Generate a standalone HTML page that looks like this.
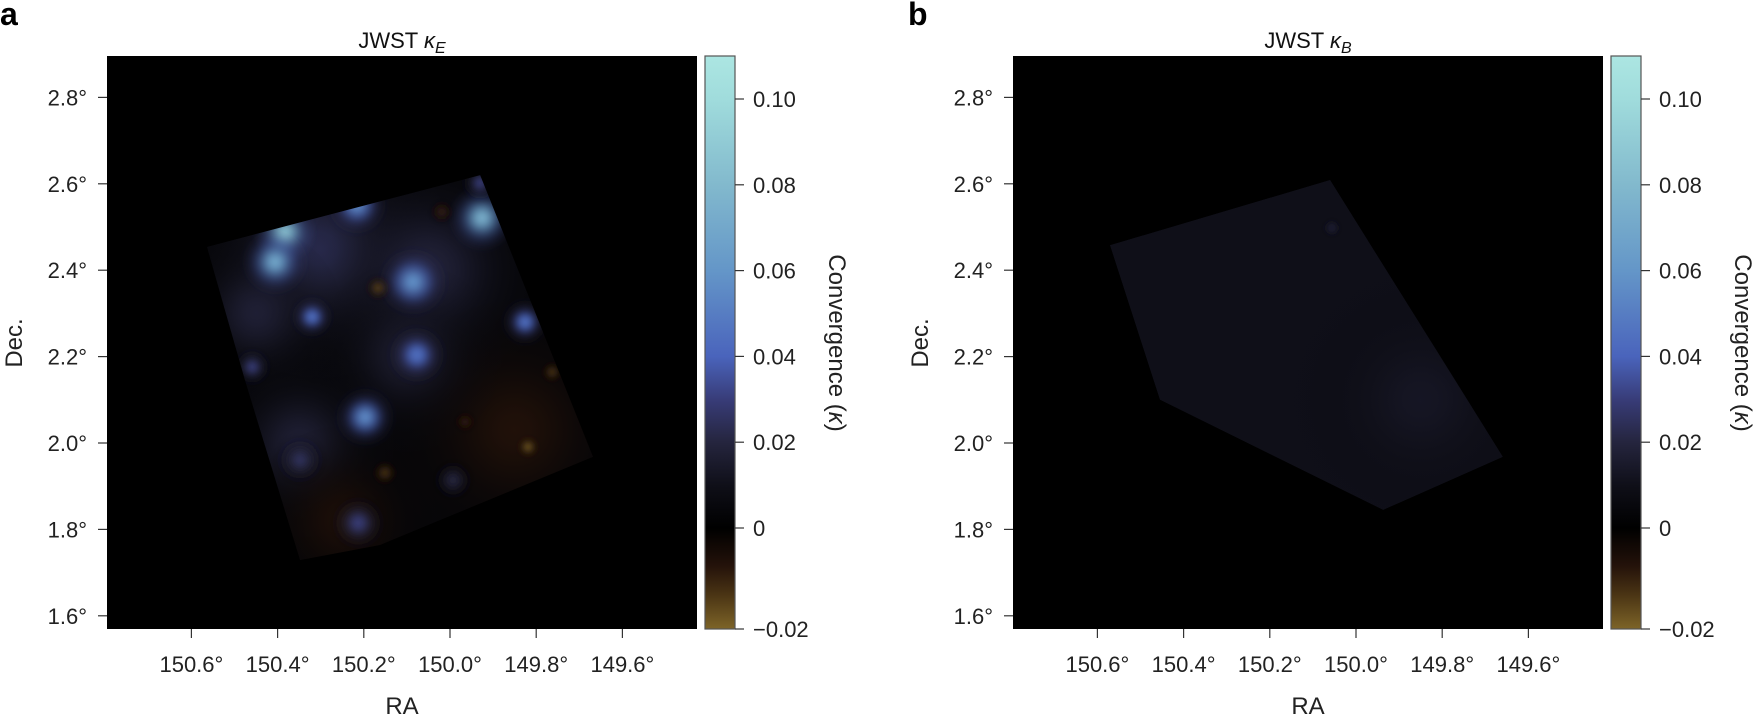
<!DOCTYPE html>
<html><head><meta charset="utf-8"><style>
html,body{margin:0;padding:0;background:#fff;}
svg{display:block;font-family:"Liberation Sans",sans-serif;}
</style></head><body>
<svg id="fig" width="1760" height="721" viewBox="0 0 1760 721" xmlns="http://www.w3.org/2000/svg">
<defs>
<filter id="soft" x="-50%" y="-50%" width="200%" height="200%"><feGaussianBlur stdDeviation="3"/></filter>
<linearGradient id="cbgrad" x1="0" y1="1" x2="0" y2="0">
<stop offset="0" stop-color="#7d6428"/><stop offset="0.06" stop-color="#4a3414"/><stop offset="0.11" stop-color="#24120a"/>
<stop offset="0.176" stop-color="#000"/><stop offset="0.25" stop-color="#0f0f18"/><stop offset="0.326" stop-color="#25253e"/>
<stop offset="0.40" stop-color="#383c78"/><stop offset="0.476" stop-color="#4a64bc"/><stop offset="0.625" stop-color="#6496c8"/>
<stop offset="0.775" stop-color="#82b9cd"/><stop offset="0.925" stop-color="#a0dcdc"/><stop offset="1" stop-color="#ace6e2"/></linearGradient>
</defs>
</svg>
<script>
// ---- data ----
const raTicks = [150.6, 150.4, 150.2, 150.0, 149.8, 149.6];
const raTickLabels = ["150.6°","150.4°","150.2°","150.0°","149.8°","149.6°"];
const decTicks = [2.8, 2.6, 2.4, 2.2, 2.0, 1.8, 1.6];
const decTickLabels = ["2.8°","2.6°","2.4°","2.2°","2.0°","1.8°","1.6°"];
const cbTicks = [0.10, 0.08, 0.06, 0.04, 0.02, 0, -0.02];
const cbTickLabels = ["0.10","0.08","0.06","0.04","0.02","0","−0.02"];

const footRA_A = [150.564, 149.930, 149.668, 150.162, 150.348, 150.476];
const footDec_A = [2.454, 2.620, 1.968, 1.764, 1.729, 2.146];
const baseKappa_A = 0.003;
const hazeRA_A = [150.30, 150.05, 150.35, 149.85, 150.25, 150.10, 150.45];
const hazeDec_A = [2.45, 2.40, 2.00, 2.03, 1.82, 2.20, 2.30];
const hazeKappa_A = [0.024, 0.02, 0.018, -0.007, -0.006, 0.016, 0.018];
const hazeRadius_A = [0.30, 0.28, 0.22, 0.30, 0.22, 0.22, 0.2];
const blobRA_A = [150.383,150.406,150.216,149.926,149.930,150.086,150.320,149.826,150.077,150.459,150.197,150.213,150.348,149.993,150.167,149.819,149.763,150.151,150.019,149.965];
const blobDec_A = [2.488,2.419,2.551,2.521,2.602,2.373,2.292,2.280,2.204,2.176,2.060,1.815,1.961,1.914,2.359,1.991,2.164,1.931,2.535,2.049];
const blobKappa_A = [0.085,0.07,0.055,0.075,0.03,0.058,0.045,0.045,0.045,0.03,0.055,0.03,0.025,0.02,-0.016,-0.02,-0.015,-0.014,-0.01,-0.01];
const blobRadius_A = [0.07,0.075,0.07,0.075,0.045,0.08,0.05,0.055,0.07,0.045,0.07,0.065,0.06,0.05,0.03,0.025,0.025,0.03,0.03,0.025];

const footRA_B = [150.571, 150.060, 149.659, 149.937, 150.455];
const footDec_B = [2.458, 2.609, 1.968, 1.845, 2.100];
const baseKappa_B = 0.008;
const hazeRA_B = [149.85];
const hazeDec_B = [2.10];
const hazeKappa_B = [0.012];
const hazeRadius_B = [0.3];
const blobRA_B = [150.056];
const blobDec_B = [2.498];
const blobKappa_B = [0.022];
const blobRadius_B = [0.02];

// ---- helpers ----
const NS = "http://www.w3.org/2000/svg";
const svg = document.getElementById('fig');
const defs = svg.querySelector('defs');
function mk(tag, attrs, parent){const e=document.createElementNS(NS,tag);for(const k in attrs)e.setAttribute(k,attrs[k]);(parent||svg).appendChild(e);return e;}
const stops=[[-0.02,[125,100,40]],[-0.014,[74,52,20]],[-0.008,[40,20,10]],[0,[0,0,0]],[0.008,[15,15,24]],[0.02,[37,37,62]],[0.03,[56,60,120]],[0.04,[74,100,188]],[0.06,[100,150,200]],[0.08,[130,185,205]],[0.1,[160,220,220]]];
function cmap(v){if(v<=stops[0][0])return 'rgb('+stops[0][1]+')';for(let i=1;i<stops.length;i++){if(v<=stops[i][0]){const a=stops[i-1],b=stops[i],t=(v-a[0])/(b[0]-a[0]);return 'rgb('+a[1].map((c,j)=>Math.round(c+(b[1][j]-c)*t)).join(',')+')';}}return 'rgb('+stops[stops.length-1][1]+')';}
let gcount=0;
function radial(k, opac){
  const gid='rg'+(gcount++);
  const rg=mk('radialGradient',{id:gid},defs);
  const n=8;
  for(let s=0;s<=n;s++){const f=s/n;const w=Math.exp(-3*f*f);
    mk('stop',{offset:f,'stop-color':cmap(k*(0.4+0.6*w)),'stop-opacity':(opac*w*(1-f*0.05)).toFixed(3)},rg);}
  return gid;
}

function panel(dx, letter, sub, fRA, fDec, base, hRA, hDec, hK, hR, bRA, bDec, bK, bR, id){
  const x = ra => dx + 450 + (150.0 - ra) * 431;
  const y = dec => 443 - (dec - 2.0) * 432;
  const L=dx+107, R=dx+697, T=56, B=629;
  let t=mk('text',{x:dx+(letter==='a'?0:2),y:25,'font-size':32,'font-weight':'bold',fill:'#000'});t.textContent=letter;
  
  
  t=mk('text',{x:(L+R)/2,y:48,'font-size':22,'text-anchor':'middle',fill:'#111'});
  
  
  t.innerHTML='JWST <tspan font-style="italic">κ</tspan><tspan font-style="italic" font-size="16" dy="5">'+sub+'</tspan>';
  const bg=mk('rect',{x:L,y:T,width:R-L,height:B-T,fill:'#000'});
  
  
  const cp=mk('clipPath',{id:'clip'+id},defs);
  const pts=fRA.map((r,i)=>x(r)+','+y(fDec[i])).join(' ');
  mk('polygon',{points:pts},cp);
  const g=mk('g',{'clip-path':'url(#clip'+id+')'});
  
  
  const fp=mk('polygon',{points:pts,fill:cmap(base)},g);
  
  
  for(let i=0;i<hRA.length;i++){
    const gid=radial(hK[i],0.9);
    const c=mk('circle',{cx:x(hRA[i]),cy:y(hDec[i]),r:hR[i]*431,fill:'url(#'+gid+')'},g);
    
    
  }
  for(let i=0;i<bRA.length;i++){
    const gid=radial(bK[i],1);
    const c=mk('circle',{cx:x(bRA[i]),cy:y(bDec[i]),r:bR[i]*431,fill:'url(#'+gid+')',filter:'url(#soft)'},g);
    
    
  }
  raTicks.forEach((r,i)=>{
    const l=mk('line',{x1:x(r),x2:x(r),y1:B,y2:B+9,stroke:'#333','stroke-width':1.2});
    
    
    const tx=mk('text',{x:x(r),y:672,'font-size':22,'text-anchor':'middle',fill:'#222'});tx.textContent=raTickLabels[i];
    
    
  });
  decTicks.forEach((d,i)=>{
    const l=mk('line',{x1:L-9,x2:L,y1:y(d),y2:y(d),stroke:'#333','stroke-width':1.2});
    
    
    const tx=mk('text',{x:L-20,y:y(d)+8,'font-size':22,'text-anchor':'end',fill:'#222'});tx.textContent=decTickLabels[i];
    
    
  });
  t=mk('text',{x:(L+R)/2,y:714,'font-size':24,'text-anchor':'middle',fill:'#222'});t.textContent='RA';
  
  
  t=mk('text',{x:0,y:0,'font-size':24,'text-anchor':'middle',fill:'#222',transform:'translate('+(dx+22)+',343) rotate(-90)'});t.textContent='Dec.';
  
  
  const cL=dx+705, cR=dx+735;
  const cv = v => v >= 0 ? 528 - v * 4290 : 528 - v * 5050;
  const cb=mk('rect',{x:cL,y:T,width:cR-cL,height:B-T,fill:'url(#cbgrad)',stroke:'#555','stroke-width':1.2});
  
  
  cbTicks.forEach((v,i)=>{
    const l=mk('line',{x1:cR,x2:cR+9,y1:cv(v),y2:cv(v),stroke:'#333','stroke-width':1.2});
    
    
    const tx=mk('text',{x:cR+18,y:cv(v)+8,'font-size':22,fill:'#222'});tx.textContent=cbTickLabels[i];
    
    
  });
  t=mk('text',{x:0,y:0,'font-size':24,'text-anchor':'middle',fill:'#222',transform:'translate('+(dx+829)+',343) rotate(90)'});
  t.innerHTML='Convergence (<tspan font-style="italic">κ</tspan>)';
  
  
}
panel(0,'a','E',footRA_A,footDec_A,baseKappa_A,hazeRA_A,hazeDec_A,hazeKappa_A,hazeRadius_A,blobRA_A,blobDec_A,blobKappa_A,blobRadius_A,'A');
panel(906,'b','B',footRA_B,footDec_B,baseKappa_B,hazeRA_B,hazeDec_B,hazeKappa_B,hazeRadius_B,blobRA_B,blobDec_B,blobKappa_B,blobRadius_B,'B');
</script>
</body></html>
